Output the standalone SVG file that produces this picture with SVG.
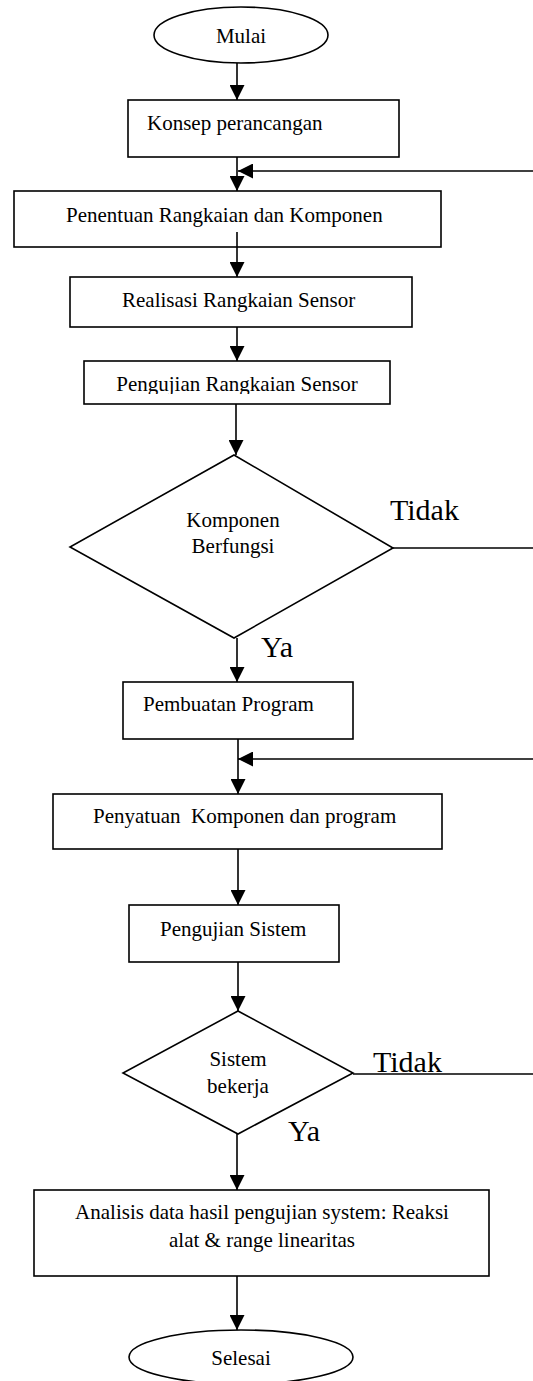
<svg xmlns="http://www.w3.org/2000/svg" width="533" height="1381" viewBox="0 0 533 1381">
<style>
.s{fill:#fff;stroke:#000;stroke-width:1.6}
.t{font-family:"Liberation Serif","Times New Roman",serif;font-size:21px;fill:#000;white-space:pre}
.c{text-anchor:middle}
.b{font-family:"Liberation Serif","Times New Roman",serif;font-size:30px;fill:#000}
.l{stroke:#000;stroke-width:1.6;fill:none}
</style>
<defs>
<marker id="ah" markerUnits="userSpaceOnUse" markerWidth="15" markerHeight="15" viewBox="0 0 15 15" refX="15" refY="7.5" orient="auto">
<path d="M0,0 L15,7.5 L0,15 z" fill="#000"/>
</marker>
<clipPath id="clipPR"><rect x="84" y="361" width="306" height="33"/></clipPath>
</defs>
<g id="n-mulai"><ellipse class="s" cx="241" cy="35" rx="87" ry="28"/><text class="t c" x="241" y="43">Mulai</text></g>
<g id="n-konsep"><rect class="s" x="128" y="100" width="271" height="57"/><text class="t" x="147" y="130">Konsep perancangan</text></g>
<g id="n-penentuan"><rect class="s" x="14" y="191" width="427" height="56"/><text class="t" x="66" y="222">Penentuan Rangkaian dan Komponen</text></g>
<g id="n-realisasi"><rect class="s" x="70" y="277" width="342" height="50"/><text class="t" x="122" y="307">Realisasi Rangkaian Sensor</text></g>
<g id="n-pengujian-rs"><rect class="s" x="84" y="361" width="306" height="43"/><text class="t c" x="237" y="391" clip-path="url(#clipPR)">Pengujian Rangkaian Sensor</text></g>
<g id="n-komponen-berfungsi"><polygon class="s" points="234,455 393,548 234,638 70,547"/><text class="t c" x="233" y="527">Komponen</text><text class="t c" x="233" y="553">Berfungsi</text></g>
<g id="n-pembuatan"><rect class="s" x="123" y="682" width="230" height="57"/><text class="t" x="143" y="711">Pembuatan Program</text></g>
<g id="n-penyatuan"><rect class="s" x="53" y="794" width="389" height="55"/><text class="t" x="93" y="823">Penyatuan  Komponen dan program</text></g>
<g id="n-pengujian-sistem"><rect class="s" x="129" y="905" width="210" height="57"/><text class="t" x="160" y="936">Pengujian Sistem</text></g>
<g id="n-sistem-bekerja"><polygon class="s" points="238,1011 353,1073 238,1134 123,1073"/><text class="t c" x="238" y="1066">Sistem</text><text class="t c" x="238" y="1093">bekerja</text></g>
<g id="n-analisis"><rect class="s" x="34" y="1190" width="455" height="86"/><text class="t c" x="262" y="1219">Analisis data hasil pengujian system: Reaksi</text><text class="t c" x="262" y="1247">alat &amp; range linearitas</text></g>
<g id="n-selesai"><ellipse class="s" cx="241" cy="1357" rx="112" ry="27"/><text class="t c" x="241" y="1365">Selesai</text></g>
<g id="connectors">
<line class="l" x1="237" y1="63" x2="237" y2="100" marker-end="url(#ah)"/>
<line class="l" x1="237" y1="157" x2="237" y2="191" marker-end="url(#ah)"/>
<line class="l" x1="533" y1="171" x2="238" y2="171" marker-end="url(#ah)"/>
<line class="l" x1="237" y1="232" x2="237" y2="277" marker-end="url(#ah)"/>
<line class="l" x1="237" y1="327" x2="237" y2="361" marker-end="url(#ah)"/>
<line class="l" x1="236" y1="404" x2="236" y2="455" marker-end="url(#ah)"/>
<line class="l" x1="393" y1="548" x2="533" y2="548"/>
<line class="l" x1="237" y1="638" x2="237" y2="682" marker-end="url(#ah)"/>
<line class="l" x1="238" y1="739" x2="238" y2="794" marker-end="url(#ah)"/>
<line class="l" x1="533" y1="759" x2="238" y2="759" marker-end="url(#ah)"/>
<line class="l" x1="238" y1="849" x2="238" y2="905" marker-end="url(#ah)"/>
<line class="l" x1="238" y1="962" x2="238" y2="1011" marker-end="url(#ah)"/>
<line class="l" x1="353" y1="1074" x2="533" y2="1074"/>
<line class="l" x1="237" y1="1134" x2="237" y2="1190" marker-end="url(#ah)"/>
<line class="l" x1="237" y1="1276" x2="237" y2="1330" marker-end="url(#ah)"/>
</g>
<g id="labels">
<text class="b" x="390" y="520">Tidak</text>
<text class="b" x="261" y="657">Ya</text>
<text class="b" x="373" y="1072">Tidak</text>
<text class="b" x="288" y="1141">Ya</text>
</g>
</svg>
